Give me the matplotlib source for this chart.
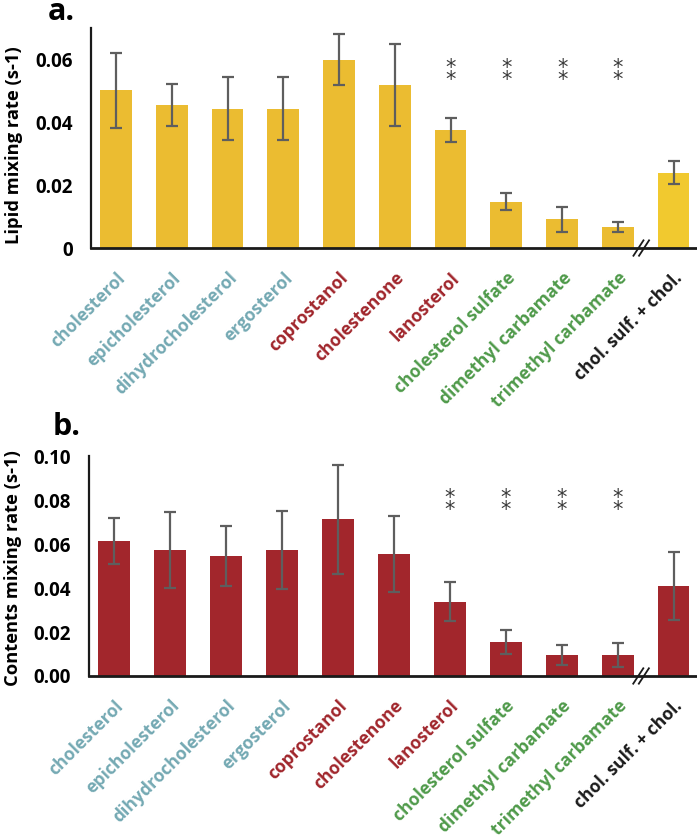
import matplotlib
matplotlib.use("Agg")
import matplotlib.pyplot as plt
import matplotlib.transforms as mtransforms
import numpy as np

plt.rcParams['font.family'] = ['Open Sans', 'DejaVu Sans']

categories = ["cholesterol", "epicholesterol", "dihydrocholesterol", "ergosterol",
              "coprostanol", "cholestenone", "lanosterol", "cholesterol sulfate",
              "dimethyl carbamate", "trimethyl carbamate", "chol. sulf. + chol."]
label_colors = ["#74A9B3"] * 4 + ["#A0252B"] * 3 + ["#4F9A4A"] * 3 + ["#1A1A1A"]

lipid_rate = [0.0502, 0.0456, 0.0444, 0.0444, 0.0600, 0.0519, 0.0375, 0.0148, 0.0091, 0.0067, 0.0240]
lipid_err = [0.0120, 0.0067, 0.0100, 0.0100, 0.0080, 0.0132, 0.0038, 0.0028, 0.0039, 0.0016, 0.0037]

contents_rate = [0.0614, 0.0573, 0.0547, 0.0573, 0.0712, 0.0555, 0.0338, 0.0155, 0.0095, 0.0095, 0.0410]
contents_err = [0.0105, 0.0172, 0.0136, 0.0178, 0.0248, 0.0172, 0.0088, 0.0055, 0.0047, 0.0056, 0.0154]

signif_idx = [6, 7, 8, 9]

fig = plt.figure(figsize=(6.97, 8.36), dpi=100)

def draw_panel(ax, vals, errs, colors, ylim, yticks, yticklabels, ylabel, label_x, label_y, star_y):
    x = np.arange(len(vals))
    ax.bar(x, vals, width=0.57, color=colors, edgecolor='none', zorder=2)
    ax.errorbar(x, vals, yerr=errs, fmt='none', ecolor='#5E5E5E', elinewidth=1.6,
                capsize=4.5, capthick=1.6, zorder=3)
    ax.set_ylim(*ylim)
    ax.set_xlim(-0.45, 10.42)
    ax.set_yticks(yticks)
    ax.set_yticklabels(yticklabels, fontsize=13.5, fontweight='bold')
    ax.tick_params(axis='y', length=0, pad=13)
    ax.tick_params(axis='x', length=0)
    ax.set_xticks(x)
    ax.set_xticklabels(categories, rotation=45, ha='right', rotation_mode='anchor',
                       fontsize=12.6, fontweight='bold')
    off = mtransforms.ScaledTranslation(8 / 100, 0, fig.dpi_scale_trans)
    for t, c in zip(ax.get_xticklabels(), label_colors):
        t.set_color(c)
        t.set_transform(t.get_transform() + off)
    ax.tick_params(axis='x', pad=15)
    for s in ['top', 'right']:
        ax.spines[s].set_visible(False)
    ax.spines['left'].set_linewidth(1.6)
    ax.spines['bottom'].set_linewidth(2.0)
    ax.spines['left'].set_color('#1a1a1a')
    ax.spines['bottom'].set_color('#1a1a1a')
    ax.set_ylabel(ylabel, fontsize=13.2, fontweight='bold')
    ax.yaxis.set_label_coords(label_x, label_y)
    for i in signif_idx:
        ax.text(i, star_y, "*\n*", ha='center', va='center', fontsize=15,
                color='#3A3A3A', family='DejaVu Sans', linespacing=0.5)
    # axis break marks
    trans = mtransforms.blended_transform_factory(ax.transData, ax.transAxes)
    for dx in (-0.05, 0.05):
        ax.plot([9.42 + dx - 0.09, 9.42 + dx + 0.09], [-0.035, 0.035], color='#1a1a1a',
                lw=1.3, transform=trans, clip_on=False, zorder=5)

ax1 = fig.add_axes([0.1306, 0.7033, 0.8694, 0.263])
colors1 = ["#EBBC31"] * 10 + ["#F1C92F"]
draw_panel(ax1, lipid_rate, lipid_err, colors1, (0, 0.07), [0, 0.02, 0.04, 0.06],
           ["0", "0.02", "0.04", "0.06"], "Lipid mixing rate (s-1)", -0.113, 0.468, 0.0553)
fig.text(0.069, 0.9765, "a.", fontsize=22, fontweight='bold', ha='left', va='baseline')

ax2 = fig.add_axes([0.1277, 0.1914, 0.8723, 0.263])
colors2 = ["#A2262C"] * 11
draw_panel(ax2, contents_rate, contents_err, colors2, (0, 0.10),
           [0, 0.02, 0.04, 0.06, 0.08, 0.10],
           ["0.00", "0.02", "0.04", "0.06", "0.08", "0.10"],
           "Contents mixing rate (s-1)", -0.11, 0.49, 0.078)
fig.text(0.075, 0.4797, "b.", fontsize=22, fontweight='bold', ha='left', va='baseline')

fig.savefig("out.png", dpi=100)
